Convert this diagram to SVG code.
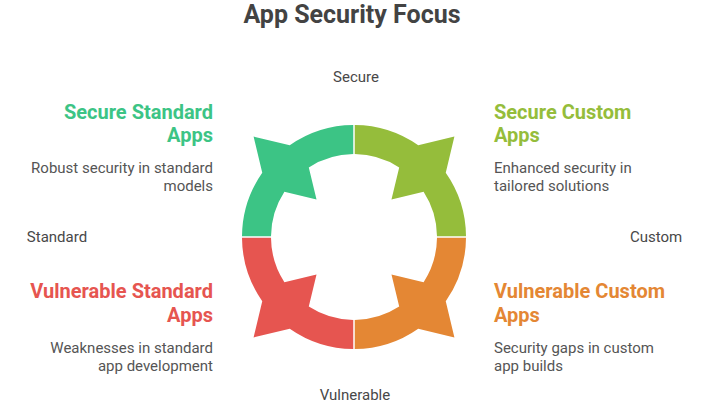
<svg xmlns="http://www.w3.org/2000/svg" width="708" height="407" viewBox="0 0 708 407">
<style>
text{font-family:Roboto,"Liberation Sans",sans-serif}
.title{font-size:25px;font-weight:700;fill:#434343}
.axis{font-size:15px;fill:#484848}
.head{font-size:20px;font-weight:700}
.desc{font-size:15px;fill:#555555}
.r{text-anchor:end}
.m{text-anchor:middle}
</style>
<defs>
<path id="seg" d="M353.25,125 A112,112 0 0 0 289.76,145.25 L253.59,136.59 L262.25,172.76 A112,112 0 0 0 242,236.25 L271,236.25 A83,83 0 0 1 284.39,191.8 L316.52,199.52 L308.8,167.39 A83,83 0 0 1 353.25,154 Z"/>
</defs>
<rect width="708" height="407" fill="#ffffff"/>
<text class="title m" x="352" y="23">App Security Focus</text>
<g id="axes">
<text class="axis m" x="356" y="82">Secure</text>
<text class="axis m" x="57" y="242">Standard</text>
<text class="axis m" x="656" y="242">Custom</text>
<text class="axis m" x="355" y="400">Vulnerable</text>
</g>
<g id="connectors"></g>
<g id="secure-standard">
<use href="#seg" fill="#3cc485"/>
<text class="head r" x="213" y="119" fill="#3cc485">Secure Standard</text>
<text class="head r" x="213" y="142" fill="#3cc485">Apps</text>
<text class="desc r" x="213" y="173">Robust security in standard</text>
<text class="desc r" x="213" y="191">models</text>
</g>
<g id="secure-custom">
<use href="#seg" fill="#95bd3b" transform="translate(708,0) scale(-1,1)"/>
<text class="head" x="494" y="119" fill="#95bd3b">Secure Custom</text>
<text class="head" x="494" y="142" fill="#95bd3b">Apps</text>
<text class="desc" x="494" y="173">Enhanced security in</text>
<text class="desc" x="494" y="191">tailored solutions</text>
</g>
<g id="vulnerable-standard">
<use href="#seg" fill="#e65550" transform="translate(0,474) scale(1,-1)"/>
<text class="head r" x="213" y="298" fill="#e65550">Vulnerable Standard</text>
<text class="head r" x="213" y="322" fill="#e65550">Apps</text>
<text class="desc r" x="213" y="353">Weaknesses in standard</text>
<text class="desc r" x="213" y="371">app development</text>
</g>
<g id="vulnerable-custom">
<use href="#seg" fill="#e48734" transform="translate(708,474) scale(-1,-1)"/>
<text class="head" x="494" y="298" fill="#e48734">Vulnerable Custom</text>
<text class="head" x="494" y="322" fill="#e48734">Apps</text>
<text class="desc" x="494" y="353">Security gaps in custom</text>
<text class="desc" x="494" y="371">app builds</text>
</g>
</svg>
